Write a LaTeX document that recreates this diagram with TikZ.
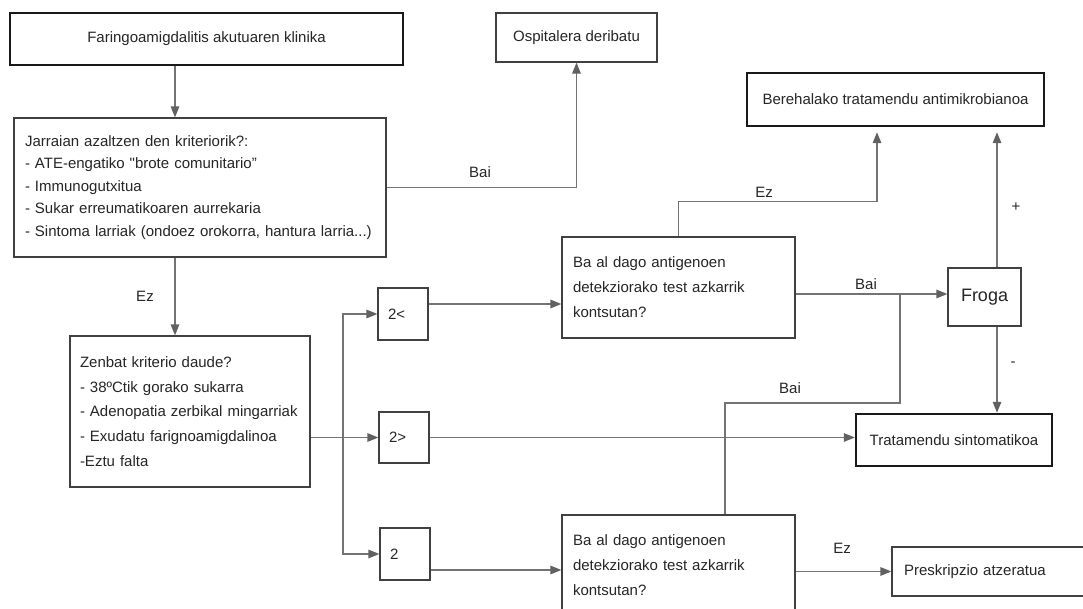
\documentclass[tikz,border=0pt]{standalone}
\usepackage{fontspec}
\setmainfont{Liberation Sans}
\usetikzlibrary{arrows.meta,calc}
\begin{document}
\begin{tikzpicture}[x=1pt,y=-1pt,
  basebox/.style={draw=black!75, line width=1.2pt, fill=white, inner ysep=0pt, text=black!85},
  thinbox/.style={basebox, font=\fontsize{15}{22.5}\selectfont},
  thickbox/.style={thinbox, line width=2.4pt, draw=black!90},
  conn/.style={draw=black!55, line width=1.3pt},
  arr/.style={conn, -{Triangle[length=11pt,width=8.5pt,color=black!62,fill=black!62]}},
  twoarr/.style={conn, {Triangle[length=11pt,width=8.5pt,color=black!62,fill=black!62]}-{Triangle[length=11pt,width=8.5pt,color=black!62,fill=black!62]}},
  lab/.style={font=\fontsize{15}{17}\selectfont, text=black!85, inner sep=0pt}
]
\clip (0,0) rectangle (1083,609);
\fill[white] (0,0) rectangle (1083,609);

% nodes
\node[thickbox, minimum width=393pt, minimum height=52pt, inner xsep=0pt] (box1) at (206.5,39) {Faringoamigdalitis akutuaren klinika};
\node[thinbox, minimum width=161pt, minimum height=49pt, inner xsep=0pt] (osp) at (576.5,37.5) {Ospitalera deribatu};
\node[thinbox, text width=350pt, inner xsep=11pt, minimum height=139pt, align=left] (box2) at (200,187.5)
  {Jarraian azaltzen den kriteriorik?:\\- ATE-engatiko \textquotedbl brote comunitario”\\- Immunogutxitua\\- Sukar erreumatikoaren aurrekaria\\- Sintoma larriak (ondoez orokorra, hantura larria...)};
\node[thickbox, minimum width=297pt, minimum height=53pt, inner xsep=0pt] (bere) at (895.5,99.5) {Berehalako tratamendu antimikrobianoa};
\node[thinbox, font=\fontsize{15}{24.7}\selectfont, text width=220pt, inner xsep=10pt, minimum height=151pt, align=left] (box3) at (190,411.5)
  {Zenbat kriterio daude?\\- 38ºCtik gorako sukarra\\- Adenopatia zerbikal mingarriak\\- Exudatu farignoamigdalinoa\\-Eztu falta};
\node[thinbox, text width=30pt, inner xsep=10pt, minimum height=52pt, align=left] (b2lt) at (403,314) {2<};
\node[thinbox, text width=30pt, inner xsep=10pt, minimum height=51pt, align=left] (b2gt) at (404,437.5) {2>};
\node[thinbox, text width=30pt, inner xsep=10pt, minimum height=52pt, align=left] (b2eq) at (405,554) {2};
\node[thinbox, font=\fontsize{15}{25}\selectfont, text width=211pt, inner xsep=11pt, minimum height=101pt, align=left] (ant1) at (678.5,287.5)
  {Ba al dago antigenoen\\detekziorako test azkarrik\\kontsutan?};
\node[thinbox, font=\fontsize{15}{25}\selectfont, text width=211pt, inner xsep=11pt, minimum height=101pt, align=left] (ant2) at (678.5,565.5)
  {Ba al dago antigenoen\\detekziorako test azkarrik\\kontsutan?};
\node[basebox, font=\fontsize{18}{20}\selectfont, minimum width=73pt, minimum height=58pt, inner xsep=0pt] (froga) at (984.5,297) {Froga};
\node[thickbox, minimum width=196pt, minimum height=52pt, inner xsep=0pt] (trat) at (954,440) {Tratamendu sintomatikoa};
\node[thinbox, text width=184pt, inner xsep=12pt, minimum height=49pt, align=left] (presk) at (996,571.5) {Preskripzio atzeratua};

% helper coordinates
\coordinate (cx) at (175,0);
\coordinate (vx) at (343,437);
\coordinate (r1) at (500,304);
\coordinate (r3) at (500,570);
\coordinate (j1) at (900,294);
\coordinate (fx) at (997,0);
\coordinate (bx) at (725,403);

% connectors
\draw[arr] (box1.south -| cx) -- (box2.north -| cx);
\draw[arr] (box2.south -| cx) -- (box3.north -| cx);
\draw[arr] (box2.east) -| (osp.south);
\draw[arr, shorten >=5pt] (ant1.north) -- ++(0,-35) -| ($(bere.south)+(-18.5,0)$);
\draw[arr] (ant1.east |- j1) -- (froga.west |- j1);
\draw[arr, shorten >=5pt] (froga.north -| fx) -- (bere.south -| fx);
\draw[arr] (froga.south -| fx) -- (trat.north -| fx);
\draw[conn] (j1) |- (bx) -- (ant2.north -| bx);
\draw[arr] (ant2.east |- presk.west) -- (presk.west);
\draw[arr] (box3.east |- b2gt.west) -- (b2gt.west);
\draw[twoarr] (b2lt.west) -| (vx) |- (b2eq.west);
\draw[arr] (b2lt.east |- r1) -- (ant1.west |- r1);
\draw[arr] (b2gt.east) -- (trat.west |- b2gt.east);
\draw[arr] (b2eq.east |- r3) -- (ant2.west |- r3);

% labels
\node[lab] (l1) at (480,172) {Bai};
\node[lab] (l2) at (764,192) {Ez};
\node[lab] (l3) at (1016,207) {+};
\node[lab] (l4) at (866,284) {Bai};
\node[lab] (l5) at (1013,364) {-};
\node[lab] (l6) at (790,388) {Bai};
\node[lab] (l7) at (842,548) {Ez};
\node[lab] (l8) at (145,296) {Ez};
\end{tikzpicture}
\end{document}
